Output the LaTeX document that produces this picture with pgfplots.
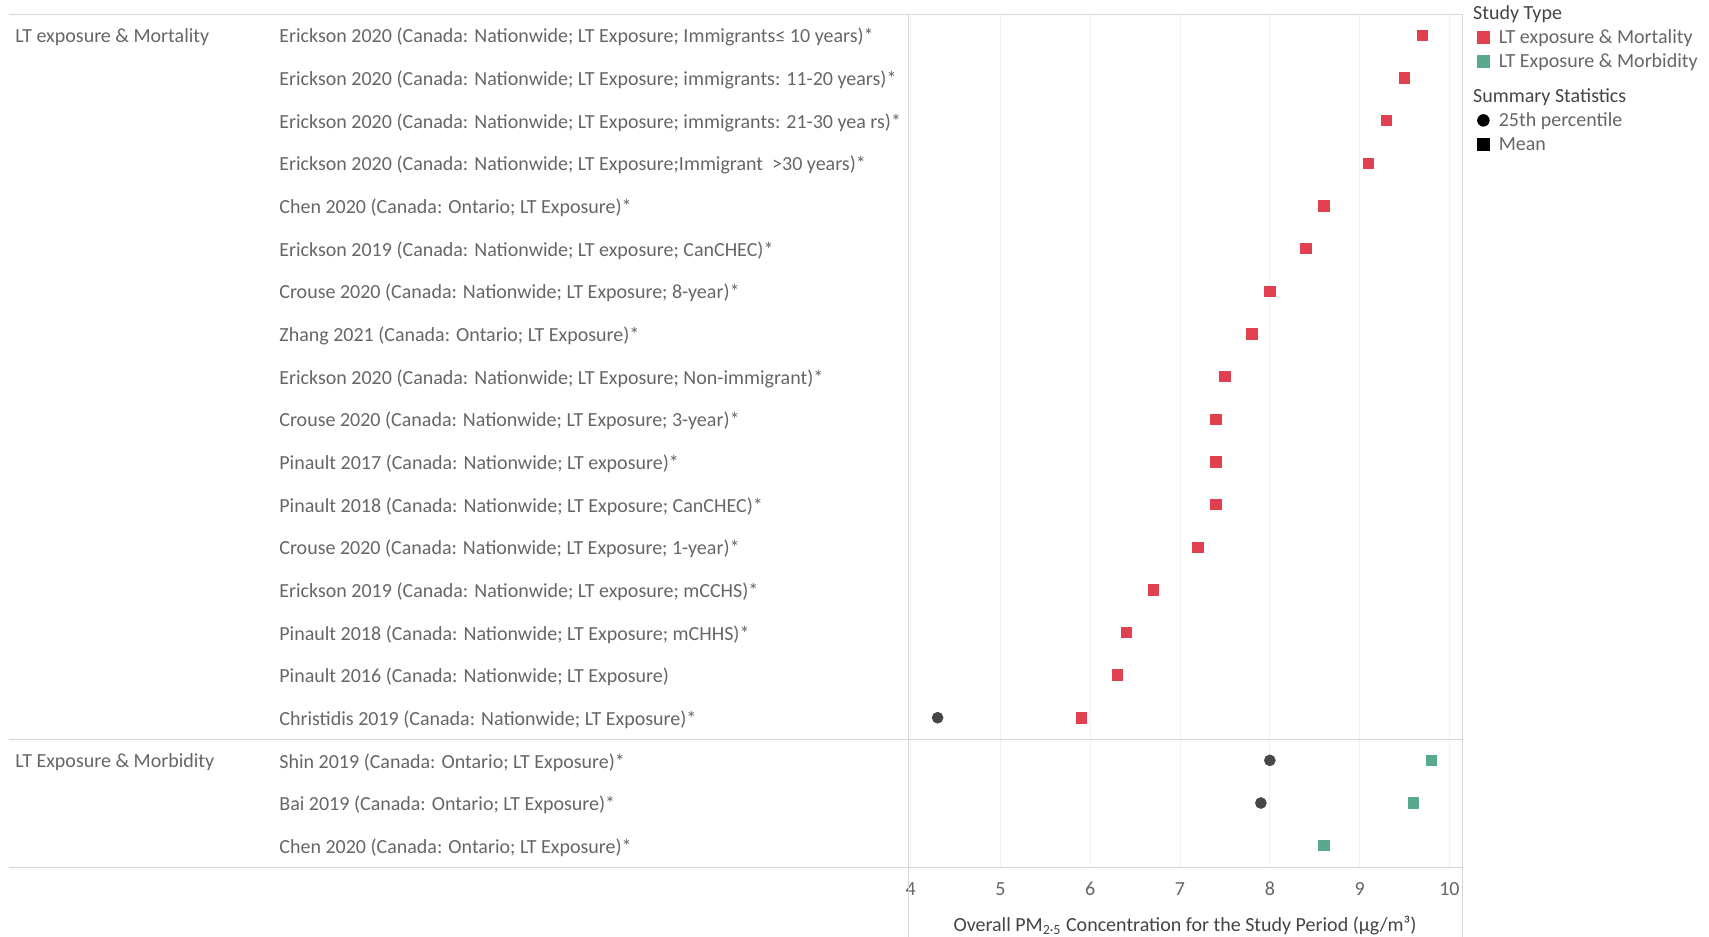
\documentclass[border=0pt]{standalone}
\usepackage{pgfplots}
\pgfplotsset{compat=1.18}
\usepackage{fontspec}
\setmainfont{Carlito}
\definecolor{mortred}{HTML}{E0404F}
\definecolor{morbteal}{HTML}{59A98C}
\definecolor{pctgray}{HTML}{474747}
\definecolor{txtgray}{HTML}{666666}
\definecolor{ttlgray}{HTML}{444444}
\definecolor{linegray}{HTML}{D6D6D6}
\begin{document}
\begin{tikzpicture}[font=\fontsize{10}{12}\selectfont]
\useasboundingbox (0,0) rectangle (854.5pt,468.5pt);
\begin{axis}[
  at={(454pt,35pt)}, anchor=south west,
  scale only axis, width=277pt, height=426.5pt,
  xmin=3.97, xmax=10.14, ymin=0.5, ymax=20.5,
  clip=false,
  xtick={4,5,6,7,8,9,10},
  ytick={1,...,20},
  yticklabels={
    {Chen 2020 (Canada: Ontario; LT Exposure)*},
    {Bai 2019 (Canada: Ontario; LT Exposure)*},
    {Shin 2019 (Canada: Ontario; LT Exposure)*},
    {Christidis 2019 (Canada: Nationwide; LT Exposure)*},
    {Pinault 2016 (Canada: Nationwide; LT Exposure)},
    {Pinault 2018 (Canada: Nationwide; LT Exposure; mCHHS)*},
    {Erickson 2019 (Canada: Nationwide; LT exposure; mCCHS)*},
    {Crouse 2020 (Canada: Nationwide; LT Exposure; 1-year)*},
    {Pinault 2018 (Canada: Nationwide; LT Exposure; CanCHEC)*},
    {Pinault 2017 (Canada: Nationwide; LT exposure)*},
    {Crouse 2020 (Canada: Nationwide; LT Exposure; 3-year)*},
    {Erickson 2020 (Canada: Nationwide; LT Exposure; Non-immigrant)*},
    {Zhang 2021 (Canada: Ontario; LT Exposure)*},
    {Crouse 2020 (Canada: Nationwide; LT Exposure; 8-year)*},
    {Erickson 2019 (Canada: Nationwide; LT exposure; CanCHEC)*},
    {Chen 2020 (Canada: Ontario; LT Exposure)*},
    {Erickson 2020 (Canada: Nationwide; LT Exposure;Immigrant\ \ >30 years)*},
    {Erickson 2020 (Canada: Nationwide; LT Exposure; immigrants: 21-30 yea rs)*},
    {Erickson 2020 (Canada: Nationwide; LT Exposure; immigrants: 11-20 years)*},
    {Erickson 2020 (Canada: Nationwide; LT Exposure; Immigrants≤ 10 years)*}
  },
  yticklabel style={anchor=west, inner sep=0pt, xshift=-314.5pt, yshift=-1pt, text=txtgray},
  xticklabel style={anchor=center, inner sep=0pt, yshift=-11pt, text=txtgray},
  /pgf/number format/assume math mode=true,
  major tick length=0pt,
  axis line style={linegray},
  xmajorgrids, major grid style={draw=black!5},
  xlabel={Overall PM\textsubscript{2·5} Concentration for the Study Period (µg/m³)},
  xlabel style={at={(axis description cs:0.5,0)}, anchor=center, yshift=-29.5pt, text=ttlgray},
  legend style={draw=none, fill=none, at={(rel axis cs:1,1)}, anchor=north west,
    xshift=7.4pt, yshift=4.2pt, inner sep=0pt, row sep=3pt, column sep=4.6pt,
    nodes={inner sep=0pt, text height=7pt, text depth=2pt, text=txtgray},
    cells={anchor=base west}},
]
% horizontal separators
\draw[linegray] ([xshift=-449.5pt]axis cs:3.97,20.5) -- (axis cs:10.14,20.5);
\draw[linegray] ([xshift=-449.5pt]axis cs:3.97,3.5) -- (axis cs:10.14,3.5);
\draw[linegray] ([xshift=-449.5pt]axis cs:3.97,0.5) -- (axis cs:10.14,0.5);
\draw[linegray] (axis cs:3.97,0.5) -- ([yshift=-35pt]axis cs:3.97,0.5);
\draw[linegray] (axis cs:10.14,0.5) -- ([yshift=-35pt]axis cs:10.14,0.5);
% group labels
\node[anchor=west, inner sep=0pt, text=txtgray, xshift=-446.5pt, yshift=-1pt] at (axis cs:3.97,20) {LT exposure \& Mortality};
\node[anchor=west, inner sep=0pt, text=txtgray, xshift=-446.5pt, yshift=-1pt] at (axis cs:3.97,3) {LT Exposure \& Morbidity};

% Mean, LT exposure & Mortality
\addplot[only marks, mark=square*, mark size=2.6pt, color=mortred, forget plot]
coordinates {
(9.7,20) (9.5,19) (9.3,18) (9.1,17) (8.6,16) (8.4,15) (8.0,14) (7.8,13)
(7.5,12) (7.4,11) (7.4,10) (7.4,9) (7.2,8) (6.7,7) (6.4,6) (6.3,5) (5.9,4)
};
% Mean, LT Exposure & Morbidity
\addplot[only marks, mark=square*, mark size=2.6pt, color=morbteal, forget plot]
coordinates {(9.8,3) (9.6,2) (8.6,1)};
% 25th percentile
\addplot[only marks, mark=*, mark size=2.7pt, color=pctgray, forget plot]
coordinates {(4.3,4) (8.0,3) (7.9,2)};

% legend
\addlegendimage{legend image code/.code={\node[overlay, anchor=base west, inner sep=0pt, text=ttlgray] at (-2.4pt,0) {Study Type};}}
\addlegendentry{}
\addlegendimage{legend image code/.code={\fill[mortred] (0pt,0.4pt) rectangle (5.8pt,6.2pt);}}
\addlegendentry{LT exposure \& Mortality}
\addlegendimage{legend image code/.code={\fill[morbteal] (0pt,0.4pt) rectangle (5.8pt,6.2pt);}}
\addlegendentry{LT Exposure \& Morbidity}
\addlegendimage{legend image code/.code={\node[overlay, anchor=base west, inner sep=0pt, text=ttlgray] at (-2.4pt,0) {Summary Statistics};}}
\addlegendentry[text height=12.5pt]{}
\addlegendimage{legend image code/.code={\fill[black] (2.9pt,3.3pt) circle (2.9pt);}}
\addlegendentry{25th percentile}
\addlegendimage{legend image code/.code={\fill[black] (0pt,0.4pt) rectangle (5.8pt,6.2pt);}}
\addlegendentry{Mean}
\end{axis}
\end{tikzpicture}
\end{document}
